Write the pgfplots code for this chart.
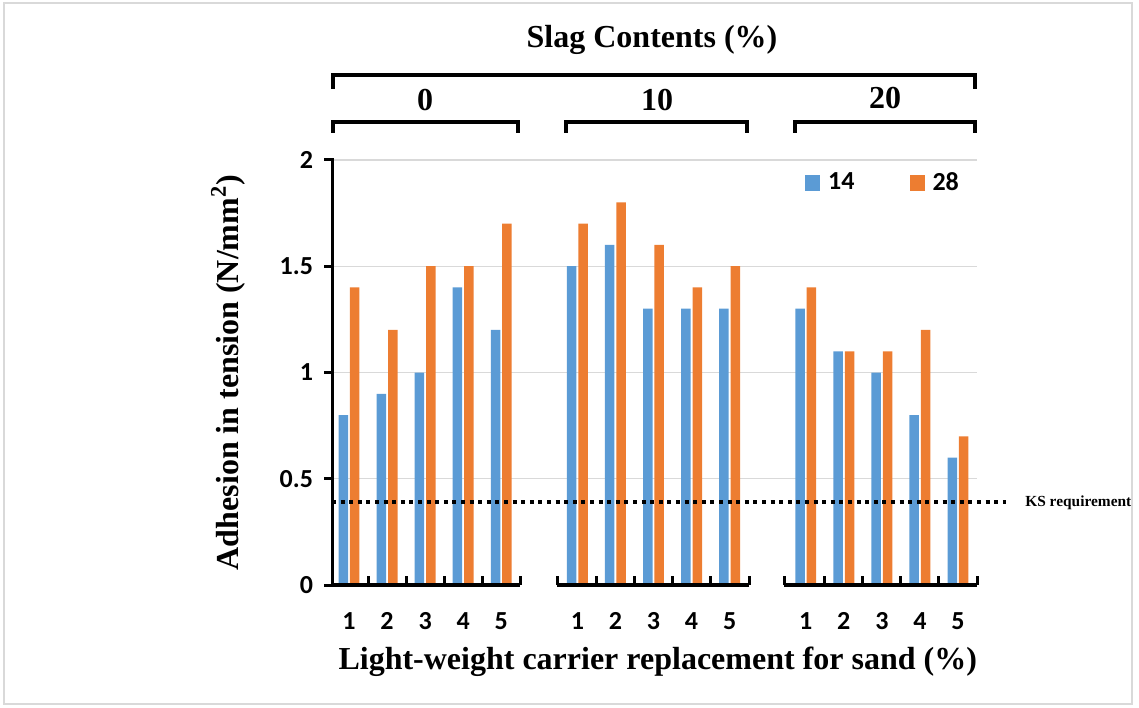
\documentclass[border=0pt]{standalone}
\usepackage{pgfplots}
\pgfplotsset{compat=1.18}
\usepackage{pgfplotstable}
\usepackage{fontspec}
\setmainfont{Liberation Serif}
\newfontfamily\calibri{Carlito}
\definecolor{sblue}{HTML}{5B9BD5}
\definecolor{sorange}{HTML}{ED7D31}
\definecolor{gridgray}{HTML}{D9D9D9}

\pgfplotstableread{
x v14 v28
0 0.8 1.4
1 0.9 1.2
2 1.0 1.5
3 1.4 1.5
4 1.2 1.7
6 1.5 1.7
7 1.6 1.8
8 1.3 1.6
9 1.3 1.4
10 1.3 1.5
12 1.3 1.4
13 1.1 1.1
14 1.0 1.1
15 0.8 1.2
16 0.6 0.7
}\datatable

\begin{document}
\begin{tikzpicture}
\useasboundingbox (0,0) rectangle (569.5pt,353.5pt);
\draw[gridgray, line width=0.75pt] (2pt,1.5pt) rectangle (566pt,352pt);
\begin{axis}[
  at={(166pt,61pt)}, anchor=south west,
  scale only axis, width=322.5pt, height=212.5pt,
  xmin=-0.447, xmax=16.5, ymin=0, ymax=2,
  clip=false,
  axis y line*=left, axis x line*=bottom,
  x axis line style={draw=none},
  y axis line style={line width=1.5pt, black, line cap=rect},
  tick align=outside,
  ytick={0.5,1,1.5,2},
  yticklabels={0.5,1,1.5,2},
  extra y ticks={0},
  extra y tick labels={0},
  extra y tick style={grid=none},
  ymajorgrids,
  grid style={gridgray, line width=0.6pt},
  ytick style={line width=1.5pt, black},
  major tick length=4pt,
  yticklabel style={font=\calibri\bfseries\fontsize{13}{13}\selectfont, anchor=east, xshift=-2pt},
  xtick={0,1,2,3,4,6,7,8,9,10,12,13,14,15,16},
  xticklabels={1,2,3,4,5,1,2,3,4,5,1,2,3,4,5},
  xtick style={draw=none},
  xticklabel style={font=\calibri\bfseries\fontsize{13}{13}\selectfont, anchor=base, yshift=-18pt},
  xlabel={Light-weight carrier replacement for sand (\%)},
  ylabel={Adhesion in tension (N/mm\textsuperscript{2})},
  xlabel style={font=\bfseries\fontsize{16}{19}\selectfont, at={(axis description cs:0.505,-0.181)}, anchor=center},
  ylabel style={font=\bfseries\fontsize{16}{19}\selectfont, at={(axis description cs:-0.161,0.5)}, anchor=center},
  legend columns=2,
  legend style={draw=none, fill=none, at={(axis description cs:0.733,0.946)}, anchor=west,
    font=\calibri\bfseries\fontsize{13}{13}\selectfont, inner sep=0pt,
    nodes={inner sep=0pt, anchor=west},
    /tikz/every odd column/.append style={column sep=4pt},
    /tikz/every even column/.append style={column sep=27.5pt}},
  legend image code/.code={\path[#1, draw=none] (0pt,-4pt) rectangle (7.5pt,4pt);},
]
\addplot[ybar, bar width=0.25, bar shift=-0.15, fill=sblue, draw=none] table[x=x, y=v14] {\datatable};
\addplot[ybar, bar width=0.25, bar shift=0.15, fill=sorange, draw=none] table[x=x, y=v28] {\datatable};
\legend{14,28}
\addplot[black, line width=2pt, dash pattern=on 2pt off 2.3pt, forget plot] coordinates {(-0.447,0.39) (17.26,0.39)};
% x-axis segments
\draw[line width=2pt] (axis cs:-0.447,0) -- (axis cs:4.5,0);
\draw[line width=2pt] (axis cs:5.465,0) -- (axis cs:10.51,0);
\draw[line width=2pt] (axis cs:11.43,0) -- (axis cs:16.5,0);
\draw[line width=1.5pt]
  (axis cs:0.5,0) -- ++(0pt,4.5pt) (axis cs:1.5,0) -- ++(0pt,4.5pt) (axis cs:2.5,0) -- ++(0pt,4.5pt)
  (axis cs:3.5,0) -- ++(0pt,4.5pt) (axis cs:4.5,0) -- ++(0pt,4.5pt)
  (axis cs:5.465,0) -- ++(0pt,4.5pt) (axis cs:6.5,0) -- ++(0pt,4.5pt) (axis cs:7.5,0) -- ++(0pt,4.5pt)
  (axis cs:8.5,0) -- ++(0pt,4.5pt) (axis cs:9.5,0) -- ++(0pt,4.5pt) (axis cs:10.51,0) -- ++(0pt,4.5pt)
  (axis cs:11.43,0) -- ++(0pt,4.5pt) (axis cs:12.5,0) -- ++(0pt,4.5pt) (axis cs:13.5,0) -- ++(0pt,4.5pt)
  (axis cs:14.5,0) -- ++(0pt,4.5pt) (axis cs:15.5,0) -- ++(0pt,4.5pt) (axis cs:16.5,0) -- ++(0pt,4.5pt);
\node[anchor=west, inner sep=0pt, font=\bfseries\fontsize{7.7}{9}\selectfont] at (axis cs:17.76,0.385) {KS requirement};
\end{axis}
% header
\node[font=\bfseries\fontsize{16}{19}\selectfont] at (326pt,333.5pt) {Slag Contents (\%)};
\draw[line width=2pt] (166.5pt,309pt) -- (166.5pt,316pt) -- (487.5pt,316pt) -- (487.5pt,309pt);
\node[font=\bfseries\fontsize{16}{19}\selectfont] at (212.5pt,303.5pt) {0};
\node[font=\bfseries\fontsize{16}{19}\selectfont] at (328.5pt,303.5pt) {10};
\node[font=\bfseries\fontsize{16}{19}\selectfont] at (442.5pt,304.5pt) {20};
\draw[line width=2pt] (166.5pt,287pt) -- (166.5pt,292.5pt) -- (259pt,292.5pt) -- (259pt,287pt);
\draw[line width=2pt] (283pt,287pt) -- (283pt,292.5pt) -- (373.5pt,292.5pt) -- (373.5pt,287pt);
\draw[line width=2pt] (397.5pt,287pt) -- (397.5pt,292.5pt) -- (487.5pt,292.5pt) -- (487.5pt,287pt);
\end{tikzpicture}
\end{document}
